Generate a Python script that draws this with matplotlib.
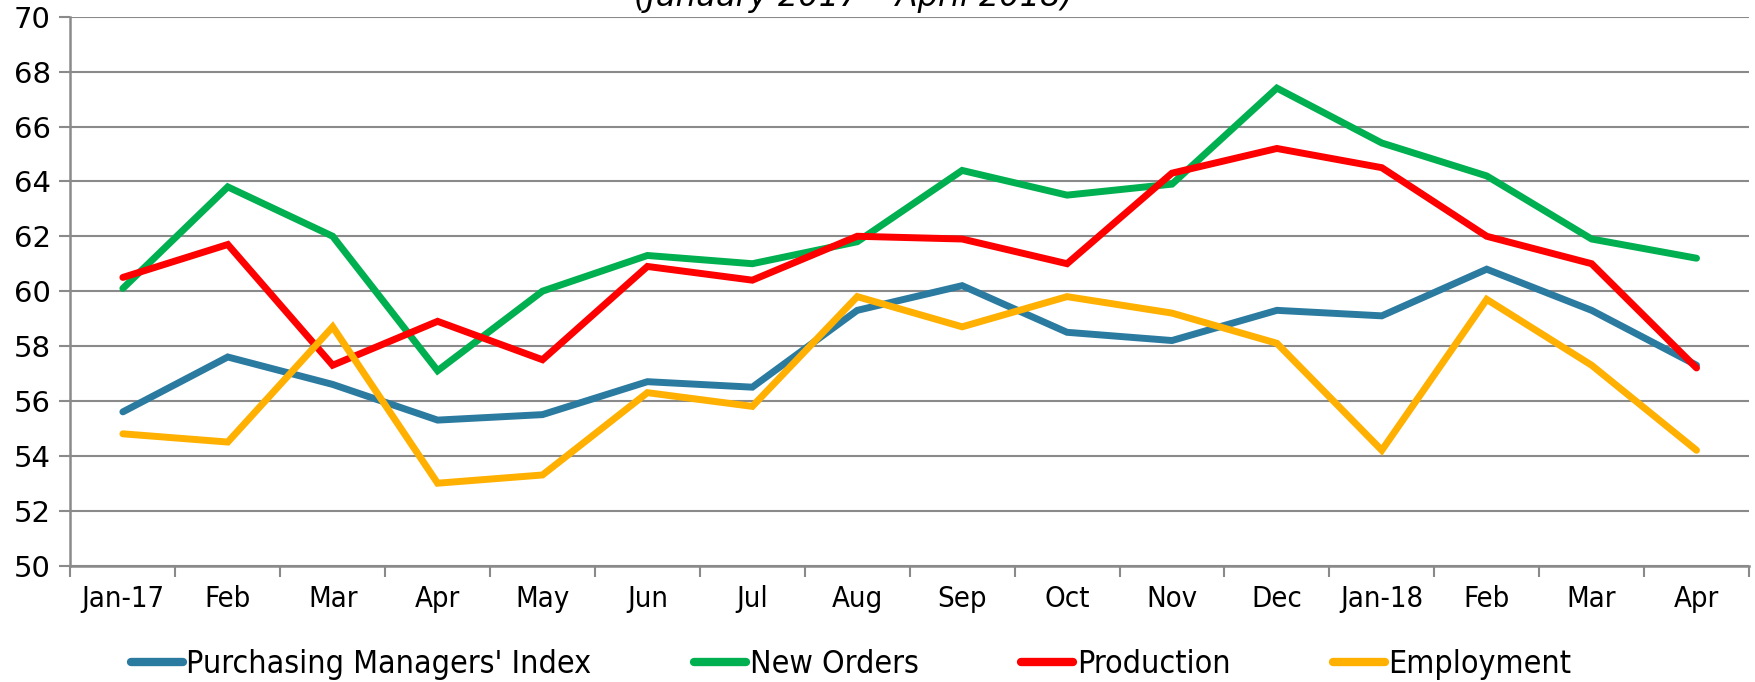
import matplotlib
matplotlib.use('Agg')
import matplotlib.pyplot as plt

months = ['Jan-17', 'Feb', 'Mar', 'Apr', 'May', 'Jun', 'Jul', 'Aug',
          'Sep', 'Oct', 'Nov', 'Dec', 'Jan-18', 'Feb', 'Mar', 'Apr']

pmi = [55.6, 57.6, 56.6, 55.3, 55.5, 56.7, 56.5, 59.3,
       60.2, 58.5, 58.2, 59.3, 59.1, 60.8, 59.3, 57.3]
new_orders = [60.1, 63.8, 62.0, 57.1, 60.0, 61.3, 61.0, 61.8,
              64.4, 63.5, 63.9, 67.4, 65.4, 64.2, 61.9, 61.2]
production = [60.5, 61.7, 57.3, 58.9, 57.5, 60.9, 60.4, 62.0,
              61.9, 61.0, 64.3, 65.2, 64.5, 62.0, 61.0, 57.2]
employment = [54.8, 54.5, 58.7, 53.0, 53.3, 56.3, 55.8, 59.8,
              58.7, 59.8, 59.2, 58.1, 54.2, 59.7, 57.3, 54.2]

series = [
    ("Purchasing Managers' Index", pmi, '#2B7BA0'),
    ('New Orders', new_orders, '#00B050'),
    ('Production', production, '#FF0000'),
    ('Employment', employment, '#FFB000'),
]

grey = '#8A8A8A'

fig = plt.figure(figsize=(17.56, 6.82), dpi=100)
ax = fig.add_axes([0.0401, 0.1708, 0.9559, 0.8046])

x = range(len(months))
for name, vals, col in series:
    ax.plot(x, vals, color=col, lw=5, solid_capstyle='round',
            solid_joinstyle='miter', label=name)

ax.set_ylim(50, 70)
ax.set_yticks(range(50, 71, 2))
ax.set_xlim(-0.5, len(months) - 0.5)
ax.yaxis.grid(True, color=grey, lw=1.5)
ax.set_axisbelow(True)

# category labels centred, tick marks between categories
ax.set_xticks([i - 0.5 for i in range(len(months) + 1)])
ax.set_xticklabels([])
ax.set_xticks(list(x), minor=True)
ax.set_xticklabels(months, minor=True, fontsize=21, fontstretch='condensed')
ax.tick_params(axis='x', which='minor', length=0, pad=14)
ax.tick_params(axis='x', which='major', length=8, width=1.5, color=grey)
ax.tick_params(axis='y', length=8, width=1.5, color=grey, pad=6, labelsize=21)

for s in ['top', 'right']:
    ax.spines[s].set_visible(False)
for s in ['left', 'bottom']:
    ax.spines[s].set_color(grey)
    ax.spines[s].set_linewidth(1.8)

fig.text(0.486, 0.991, '(January 2017 \u2013 April 2018)', ha='center',
         va='baseline', fontsize=23, style='italic')

leg = fig.legend(loc='center', bbox_to_anchor=(0.4846, 0.026), ncol=4,
                 frameon=False, prop={'size': 23, 'stretch': 'condensed'},
                 handlelength=1.65, handletextpad=0.1, columnspacing=3.2,
                 borderaxespad=0, borderpad=0)
for h in leg.get_lines():
    h.set_linewidth(6)
    h.set_solid_capstyle('round')

fig.savefig('out.png', dpi=100)
